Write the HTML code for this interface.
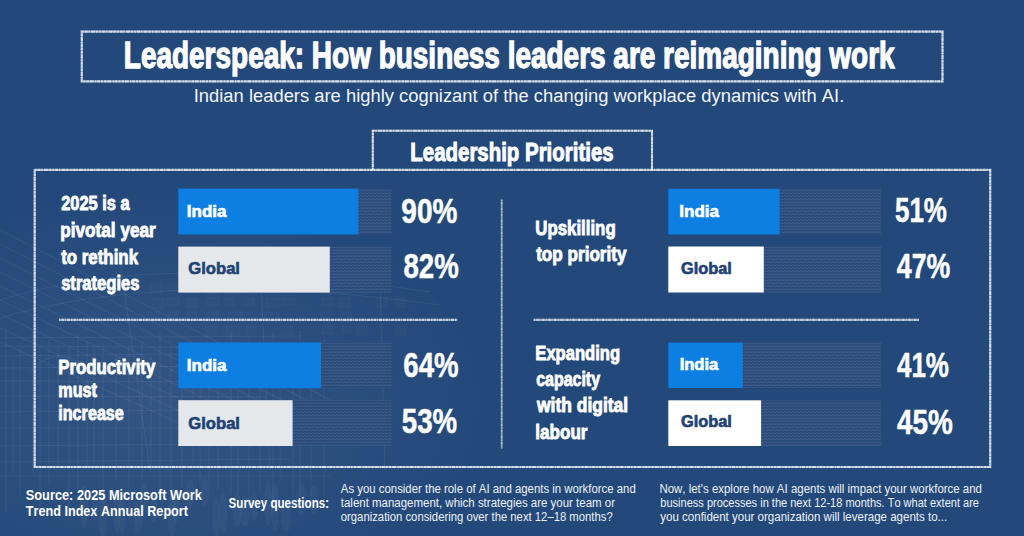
<!DOCTYPE html>
<html><head><meta charset="utf-8"><title>Leaderspeak: How business leaders are reimagining work</title>
<style>
html,body{margin:0;padding:0;background:#23487a;}
body{width:1024px;height:536px;overflow:hidden;}
svg{display:block;}
text{font-family:"Liberation Sans",Arial,sans-serif;font-kerning:none;font-variant-ligatures:none;}
</style></head><body>
<svg width="1024" height="536" viewBox="0 0 1024 536">
<defs>
<pattern id="hatch" width="4" height="3" patternUnits="userSpaceOnUse">
<rect width="4" height="3" fill="#2b4978"/>
<path d="M0 1.2 Q1 0.4 2 1.2 T4 1.2" stroke="#3c5c8a" stroke-width="1.1" fill="none"/>
</pattern>
<radialGradient id="glow" cx="0.28" cy="0.62" r="0.6">
<stop offset="0" stop-color="#ffffff" stop-opacity="0.07"/>
<stop offset="1" stop-color="#ffffff" stop-opacity="0"/>
</radialGradient>
</defs>
<rect width="1024" height="536" fill="#23487a"/>
<rect x="0" y="180" width="560" height="356" fill="url(#glow)"/>
<g stroke="#ffffff" stroke-opacity="0.065" stroke-width="1" fill="none"><path d="M0 230 L330 400"/><path d="M0 244 L318 406"/><path d="M0 258 L306 412"/><path d="M0 272 L294 418"/><path d="M0 286 L282 424"/><path d="M0 300 L270 430"/><path d="M0 314 L258 436"/><path d="M0 328 L246 442"/><path d="M0 342 L234 448"/><path d="M0 338 L301 336"/><path d="M0 346 L310 348"/><path d="M0 356 L266 353"/><path d="M0 368 L328 365"/><path d="M0 381 L306 382"/><path d="M0 396 L267 397"/><path d="M0 412 L287 409"/><path d="M0 428 L271 428"/><path d="M0 446 L313 443"/><path d="M0 462 L290 459"/><path d="M0 476 L330 476"/><path d="M6 331 L6 512"/><path d="M13 360 L13 474"/><path d="M20 348 L20 497"/><path d="M33 331 L33 474"/><path d="M40 347 L40 514"/><path d="M49 339 L49 486"/><path d="M58 347 L58 467"/><path d="M69 347 L69 512"/><path d="M78 333 L78 497"/><path d="M87 341 L87 466"/><path d="M94 348 L94 463"/><path d="M103 345 L103 503"/><path d="M116 354 L116 480"/><path d="M129 348 L129 519"/><path d="M142 341 L142 479"/><path d="M151 355 L151 471"/><path d="M160 332 L160 496"/><path d="M171 346 L171 491"/><path d="M182 353 L182 488"/><path d="M193 349 L193 464"/><path d="M200 346 L200 486"/><path d="M209 354 L209 481"/><path d="M218 359 L218 491"/><path d="M231 331 L231 502"/><path d="M238 354 L238 495"/><path d="M249 340 L249 504"/><path d="M260 349 L260 491"/><path d="M273 332 L273 513"/><path d="M280 360 L280 477"/><path d="M293 352 L293 502"/><path d="M300 331 L300 506"/><path d="M311 350 L311 496"/><path d="M324 339 L324 505"/><path d="M30 372 Q60 340 90 372"/><path d="M100 372 Q130 340 160 372"/><path d="M170 372 Q200 340 230 372"/><path d="M240 372 Q270 340 300 372"/><path d="M0 300 Q160 250 430 292"/><path d="M0 318 Q170 268 440 305"/><path d="M120 260 L150 470 M260 262 L270 470 M380 280 L385 470"/></g><g stroke="#ffffff" stroke-opacity="0.035" stroke-width="1" fill="#ffffff" fill-opacity="0.015"><rect x="150" y="284" width="12" height="9"/><rect x="168" y="284" width="12" height="7"/><rect x="206" y="284" width="12" height="10"/><rect x="227" y="284" width="12" height="10"/><rect x="247" y="284" width="10" height="10"/><rect x="266" y="284" width="12" height="9"/><rect x="301" y="284" width="10" height="8"/><rect x="320" y="284" width="13" height="8"/><rect x="340" y="284" width="10" height="10"/><rect x="361" y="284" width="13" height="9"/><rect x="377" y="284" width="13" height="7"/><rect x="152" y="298" width="12" height="10"/><rect x="167" y="298" width="12" height="7"/><rect x="187" y="298" width="10" height="10"/><rect x="206" y="298" width="13" height="7"/><rect x="224" y="298" width="10" height="7"/><rect x="245" y="298" width="9" height="8"/><rect x="266" y="298" width="14" height="9"/><rect x="283" y="298" width="12" height="7"/><rect x="322" y="298" width="11" height="7"/><rect x="339" y="298" width="11" height="9"/><rect x="377" y="298" width="10" height="9"/><rect x="396" y="298" width="9" height="9"/><rect x="148" y="312" width="11" height="9"/><rect x="168" y="312" width="10" height="9"/><rect x="187" y="312" width="10" height="8"/><rect x="208" y="312" width="10" height="8"/><rect x="228" y="312" width="14" height="7"/><rect x="265" y="312" width="14" height="9"/><rect x="321" y="312" width="9" height="8"/><rect x="341" y="312" width="10" height="10"/><rect x="206" y="326" width="10" height="10"/><rect x="226" y="326" width="14" height="10"/><rect x="246" y="326" width="9" height="8"/><rect x="281" y="326" width="12" height="8"/><rect x="322" y="326" width="11" height="8"/><rect x="342" y="326" width="9" height="7"/><rect x="357" y="326" width="10" height="10"/><rect x="396" y="326" width="10" height="9"/></g>
<g fill="#ffffff" fill-opacity="0.035"><ellipse cx="84" cy="507.0" rx="4.2" ry="22.0"/><ellipse cx="95" cy="506.0" rx="3.6" ry="15.0"/><ellipse cx="103" cy="515.5" rx="4.7" ry="23.5"/><ellipse cx="117" cy="512.0" rx="3.8" ry="21.0"/><ellipse cx="122" cy="515.0" rx="3.5" ry="21.0"/><ellipse cx="138" cy="517.5" rx="4.7" ry="15.5"/><ellipse cx="144" cy="498.0" rx="4.4" ry="15.0"/><ellipse cx="154" cy="508.5" rx="4.2" ry="13.5"/><ellipse cx="172" cy="515.5" rx="4.5" ry="21.5"/><ellipse cx="176" cy="508.5" rx="4.0" ry="13.5"/><ellipse cx="190" cy="493.5" rx="4.5" ry="14.5"/><ellipse cx="205" cy="492.0" rx="4.4" ry="14.0"/><ellipse cx="216" cy="518.0" rx="3.9" ry="21.0"/><ellipse cx="223" cy="513.0" rx="4.6" ry="21.0"/><ellipse cx="237" cy="510.5" rx="4.9" ry="16.5"/><ellipse cx="245" cy="511.0" rx="5.2" ry="16.0"/><ellipse cx="254" cy="505.5" rx="4.3" ry="14.5"/><ellipse cx="268" cy="503.5" rx="4.0" ry="23.5"/><ellipse cx="275" cy="507.5" rx="4.1" ry="23.5"/><ellipse cx="286" cy="517.0" rx="5.4" ry="15.0"/><ellipse cx="301" cy="499.0" rx="5.3" ry="17.0"/><ellipse cx="314" cy="499.5" rx="4.3" ry="14.5"/></g>
<g><rect x="81.8" y="31.6" width="860.7" height="49.8" stroke="#dfe6ef" stroke-opacity="0.62" stroke-width="2.1" fill="none"/><rect x="81.8" y="31.6" width="860.7" height="49.8" stroke="#ffffff" stroke-opacity="0.6" stroke-width="2.1" fill="none" stroke-dasharray="2 0.9 3 0.7 1.5 1.1 4 0.8 2.5 1"/><path d="M372.8 169.9 V130.8 H652 V169.9" stroke="#dfe6ef" stroke-opacity="0.62" stroke-width="2.1" fill="none"/><path d="M372.8 169.9 V130.8 H652 V169.9" stroke="#ffffff" stroke-opacity="0.6" stroke-width="2.1" fill="none" stroke-dasharray="2 0.9 3 0.7 1.5 1.1 4 0.8 2.5 1"/><rect x="34.7" y="169.9" width="955.5" height="297.1" stroke="#dfe6ef" stroke-opacity="0.62" stroke-width="2.1" fill="none"/><rect x="34.7" y="169.9" width="955.5" height="297.1" stroke="#ffffff" stroke-opacity="0.6" stroke-width="2.1" fill="none" stroke-dasharray="2 0.9 3 0.7 1.5 1.1 4 0.8 2.5 1"/><path d="M59 319.9 H457.3" stroke="#dfe6ef" stroke-opacity="0.5" stroke-width="2.1" fill="none"/><path d="M59 319.9 H457.3" stroke="#ffffff" stroke-opacity="0.55" stroke-width="2.1" fill="none" stroke-dasharray="1.5 1 2.5 0.8 1 1.2 3 1"/><path d="M533.7 319.9 H919" stroke="#dfe6ef" stroke-opacity="0.5" stroke-width="2.1" fill="none"/><path d="M533.7 319.9 H919" stroke="#ffffff" stroke-opacity="0.55" stroke-width="2.1" fill="none" stroke-dasharray="1.5 1 2.5 0.8 1 1.2 3 1"/><path d="M501.7 199.6 V448.5" stroke="#dfe6ef" stroke-opacity="0.45" stroke-width="1.7" fill="none"/><path d="M501.7 199.6 V448.5" stroke="#ffffff" stroke-opacity="0.45" stroke-width="1.7" fill="none" stroke-dasharray="1.5 1 2.5 0.8 1 1.2 3 1"/></g>
<rect x="358.5" y="188.6" width="33.0" height="45.9" fill="url(#hatch)"/><rect x="178.3" y="188.6" width="180.2" height="45.9" fill="#0d7ee2"/><rect x="329.8" y="246.6" width="61.7" height="46.0" fill="url(#hatch)"/><rect x="178.3" y="246.6" width="151.5" height="46.0" fill="#e5e8eb"/><rect x="321.0" y="342.5" width="70.8" height="45.7" fill="url(#hatch)"/><rect x="178.3" y="342.5" width="142.7" height="45.7" fill="#0d7ee2"/><rect x="292.6" y="400.2" width="99.2" height="45.8" fill="url(#hatch)"/><rect x="178.3" y="400.2" width="114.3" height="45.8" fill="#e5e8eb"/><rect x="779.7" y="188.8" width="101.4" height="45.7" fill="url(#hatch)"/><rect x="668.3" y="188.8" width="111.4" height="45.7" fill="#0d7ee2"/><rect x="763.8" y="246.5" width="117.3" height="46.0" fill="url(#hatch)"/><rect x="668.3" y="246.5" width="95.5" height="46.0" fill="#ffffff"/><rect x="742.9" y="342.6" width="138.3" height="45.4" fill="url(#hatch)"/><rect x="668.3" y="342.6" width="74.6" height="45.4" fill="#0d7ee2"/><rect x="761.1" y="400.3" width="120.1" height="45.7" fill="url(#hatch)"/><rect x="668.3" y="400.3" width="92.8" height="45.7" fill="#ffffff"/>
<text x="123.80" y="68.15" font-size="36.05" font-weight="bold" fill="#ffffff" stroke="#ffffff" stroke-width="1.3" textLength="770.81" lengthAdjust="spacingAndGlyphs">Leaderspeak: How business leaders are reimagining work</text>
<text x="193.74" y="102.20" font-size="19.2" fill="#f2f5f9" textLength="650.53" lengthAdjust="spacingAndGlyphs">Indian leaders are highly cognizant of the changing workplace dynamics with AI.</text>
<text x="410.32" y="160.60" font-size="26.16" font-weight="bold" fill="#ffffff" stroke="#ffffff" stroke-width="1.0" textLength="203.31" lengthAdjust="spacingAndGlyphs">Leadership Priorities</text>
<text x="61.15" y="210.35" font-size="20.49" font-weight="bold" fill="#ffffff" stroke="#ffffff" stroke-width="0.9" textLength="68.41" lengthAdjust="spacingAndGlyphs">2025 is a</text>
<text x="60.31" y="237.15" font-size="20.49" font-weight="bold" fill="#ffffff" stroke="#ffffff" stroke-width="0.9" textLength="95.41" lengthAdjust="spacingAndGlyphs">pivotal year</text>
<text x="61.15" y="263.55" font-size="20.49" font-weight="bold" fill="#ffffff" stroke="#ffffff" stroke-width="0.9" textLength="76.90" lengthAdjust="spacingAndGlyphs">to rethink</text>
<text x="61.15" y="290.35" font-size="20.49" font-weight="bold" fill="#ffffff" stroke="#ffffff" stroke-width="0.9" textLength="78.42" lengthAdjust="spacingAndGlyphs">strategies</text>
<text x="58.23" y="373.55" font-size="20.49" font-weight="bold" fill="#ffffff" stroke="#ffffff" stroke-width="0.9" textLength="97.02" lengthAdjust="spacingAndGlyphs">Productivity</text>
<text x="58.26" y="396.75" font-size="20.49" font-weight="bold" fill="#ffffff" stroke="#ffffff" stroke-width="0.9" textLength="38.75" lengthAdjust="spacingAndGlyphs">must</text>
<text x="58.26" y="420.35" font-size="20.49" font-weight="bold" fill="#ffffff" stroke="#ffffff" stroke-width="0.9" textLength="65.60" lengthAdjust="spacingAndGlyphs">increase</text>
<text x="535.33" y="235.05" font-size="20.49" font-weight="bold" fill="#ffffff" stroke="#ffffff" stroke-width="0.9" textLength="80.34" lengthAdjust="spacingAndGlyphs">Upskilling</text>
<text x="536.15" y="261.25" font-size="20.49" font-weight="bold" fill="#ffffff" stroke="#ffffff" stroke-width="0.9" textLength="90.39" lengthAdjust="spacingAndGlyphs">top priority</text>
<text x="535.34" y="359.75" font-size="20.49" font-weight="bold" fill="#ffffff" stroke="#ffffff" stroke-width="0.9" textLength="84.72" lengthAdjust="spacingAndGlyphs">Expanding</text>
<text x="536.15" y="385.55" font-size="20.49" font-weight="bold" fill="#ffffff" stroke="#ffffff" stroke-width="0.9" textLength="63.93" lengthAdjust="spacingAndGlyphs">capacity</text>
<text x="537.00" y="411.95" font-size="20.49" font-weight="bold" fill="#ffffff" stroke="#ffffff" stroke-width="0.9" textLength="91.14" lengthAdjust="spacingAndGlyphs">with digital</text>
<text x="535.32" y="438.75" font-size="20.49" font-weight="bold" fill="#ffffff" stroke="#ffffff" stroke-width="0.9" textLength="52.21" lengthAdjust="spacingAndGlyphs">labour</text>
<text x="186.83" y="217.18" font-size="17.08" font-weight="bold" fill="#ffffff" stroke="#ffffff" stroke-width="0.65" textLength="39.65" lengthAdjust="spacingAndGlyphs">India</text>
<text x="188.32" y="273.57" font-size="17.08" font-weight="bold" fill="#1e4274" stroke="#1e4274" stroke-width="0.65" textLength="51.67" lengthAdjust="spacingAndGlyphs">Global</text>
<text x="186.83" y="370.68" font-size="17.08" font-weight="bold" fill="#ffffff" stroke="#ffffff" stroke-width="0.65" textLength="39.65" lengthAdjust="spacingAndGlyphs">India</text>
<text x="188.32" y="428.57" font-size="17.08" font-weight="bold" fill="#1e4274" stroke="#1e4274" stroke-width="0.65" textLength="51.67" lengthAdjust="spacingAndGlyphs">Global</text>
<text x="679.33" y="217.18" font-size="17.08" font-weight="bold" fill="#ffffff" stroke="#ffffff" stroke-width="0.65" textLength="39.65" lengthAdjust="spacingAndGlyphs">India</text>
<text x="680.93" y="273.57" font-size="17.08" font-weight="bold" fill="#1e4274" stroke="#1e4274" stroke-width="0.65" textLength="50.96" lengthAdjust="spacingAndGlyphs">Global</text>
<text x="679.66" y="370.48" font-size="17.08" font-weight="bold" fill="#ffffff" stroke="#ffffff" stroke-width="0.65" textLength="38.63" lengthAdjust="spacingAndGlyphs">India</text>
<text x="680.93" y="426.88" font-size="17.08" font-weight="bold" fill="#1e4274" stroke="#1e4274" stroke-width="0.65" textLength="50.96" lengthAdjust="spacingAndGlyphs">Global</text>
<text x="401.34" y="222.75" font-size="34.67" font-weight="bold" fill="#ffffff" stroke="#ffffff" stroke-width="0.5" textLength="55.96" lengthAdjust="spacingAndGlyphs">90%</text>
<text x="403.45" y="278.05" font-size="34.67" font-weight="bold" fill="#ffffff" stroke="#ffffff" stroke-width="0.5" textLength="55.25" lengthAdjust="spacingAndGlyphs">82%</text>
<text x="403.35" y="376.75" font-size="34.67" font-weight="bold" fill="#ffffff" stroke="#ffffff" stroke-width="0.5" textLength="55.25" lengthAdjust="spacingAndGlyphs">64%</text>
<text x="401.75" y="433.25" font-size="34.67" font-weight="bold" fill="#ffffff" stroke="#ffffff" stroke-width="0.5" textLength="55.35" lengthAdjust="spacingAndGlyphs">53%</text>
<text x="895.00" y="222.25" font-size="34.67" font-weight="bold" fill="#ffffff" stroke="#ffffff" stroke-width="0.5" textLength="51.96" lengthAdjust="spacingAndGlyphs">51%</text>
<text x="896.85" y="278.25" font-size="34.67" font-weight="bold" fill="#ffffff" stroke="#ffffff" stroke-width="0.5" textLength="53.43" lengthAdjust="spacingAndGlyphs">47%</text>
<text x="896.95" y="376.65" font-size="34.67" font-weight="bold" fill="#ffffff" stroke="#ffffff" stroke-width="0.5" textLength="52.01" lengthAdjust="spacingAndGlyphs">41%</text>
<text x="896.95" y="433.75" font-size="34.67" font-weight="bold" fill="#ffffff" stroke="#ffffff" stroke-width="0.5" textLength="55.86" lengthAdjust="spacingAndGlyphs">45%</text>
<text x="25.80" y="499.70" font-size="14.2" font-weight="bold" fill="#ffffff" textLength="176.10" lengthAdjust="spacingAndGlyphs">Source: 2025 Microsoft Work</text>
<text x="25.80" y="515.90" font-size="14.2" font-weight="bold" fill="#ffffff" textLength="162.15" lengthAdjust="spacingAndGlyphs">Trend Index Annual Report</text>
<text x="228.60" y="508.10" font-size="13.9" font-weight="bold" fill="#ffffff" textLength="100.42" lengthAdjust="spacingAndGlyphs">Survey questions:</text>
<text x="340.80" y="493.00" font-size="12.6" fill="#eef2f7" textLength="295.00" lengthAdjust="spacingAndGlyphs">As you consider the role of AI and agents in workforce and</text>
<text x="340.80" y="507.00" font-size="12.6" fill="#eef2f7" textLength="274.18" lengthAdjust="spacingAndGlyphs">talent management, which strategies are your team or</text>
<text x="340.80" y="521.00" font-size="12.6" fill="#eef2f7" textLength="271.90" lengthAdjust="spacingAndGlyphs">organization considering over the next 12–18 months?</text>
<text x="659.39" y="493.10" font-size="12.6" fill="#eef2f7" textLength="322.61" lengthAdjust="spacingAndGlyphs">Now, let's explore how AI agents will impact your workforce and</text>
<text x="660.30" y="507.30" font-size="12.6" fill="#eef2f7" textLength="318.70" lengthAdjust="spacingAndGlyphs">business processes in the next 12-18 months. To what extent are</text>
<text x="660.30" y="521.20" font-size="12.6" fill="#eef2f7" textLength="286.86" lengthAdjust="spacingAndGlyphs">you confident your organization will leverage agents to...</text>
</svg>
</body></html>
